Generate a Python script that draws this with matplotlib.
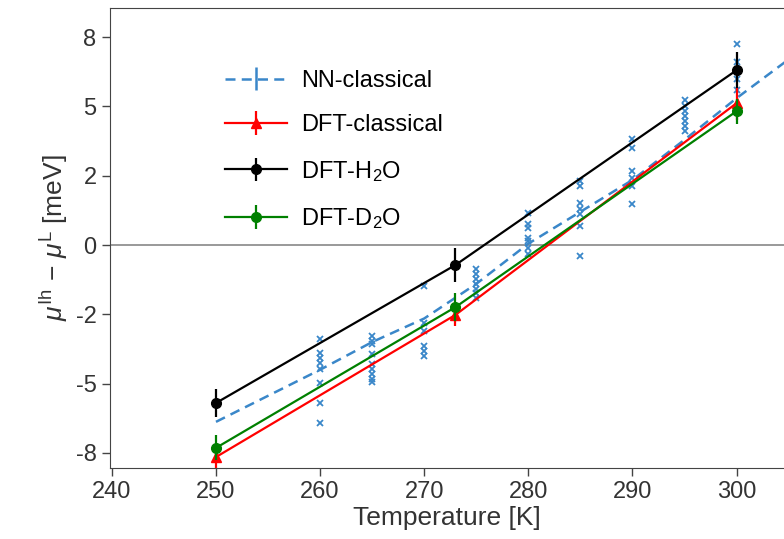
import numpy as np
import matplotlib
matplotlib.use("Agg")
import matplotlib.pyplot as plt

plt.rcParams['font.family'] = ['Liberation Sans', 'DejaVu Sans']
plt.rcParams['mathtext.fontset'] = 'custom'
plt.rcParams['mathtext.rm'] = 'Liberation Sans'
plt.rcParams['mathtext.it'] = 'Liberation Sans:italic'

# DFT results with error bars
T_dft = [250, 273, 300]
dft_classical = [-7.65, -2.52, 5.12]
dft_classical_err = [0.4, 0.4, 0.6]
dft_h2o = [-5.70, -0.72, 6.31]
dft_h2o_err = [0.5, 0.6, 0.65]
dft_d2o = [-7.32, -2.24, 4.83]
dft_d2o_err = [0.45, 0.5, 0.45]

# NN-classical mean curve
T_nn = [250, 260, 265, 270, 275, 280, 285, 290, 295, 300, 310]
nn_mean = [-6.38, -4.5, -3.5, -2.65, -1.4, 0.05, 1.2, 2.35, 3.8, 5.3, 8.1]

# individual NN runs (scatter)
nn_runs = {
    260: [-3.39, -3.89, -4.07, -4.26, -4.47, -4.98, -5.70, -6.42],
    265: [-3.28, -3.46, -3.57, -3.93, -4.29, -4.47, -4.65, -4.83, -4.94],
    270: [-1.48, -2.81, -3.10, -3.64, -3.82, -4.00],
    275: [-0.87, -1.05, -1.23, -1.41, -1.59, -1.73, -1.91],
    280: [1.16, 0.75, 0.62, 0.26, 0.14, -0.10, -0.34],
    285: [2.31, 2.13, 1.53, 1.29, 1.11, 0.69, -0.40],
    290: [3.81, 3.51, 2.67, 2.43, 2.13, 1.47],
    295: [5.25, 5.01, 4.83, 4.65, 4.47, 4.29, 4.11],
    300: [7.26, 6.6, 6.0, 5.6],
}

xticks = [240, 250, 260, 270, 280, 290, 300]
yticks = [-7.5, -5, -2.5, 0, 2.5, 5, 7.5]
ytick_labels = ['-8', '-5', '-2', '0', '2', '5', '8']

blue = '#3a87c9'

fig = plt.figure(figsize=(7.84, 5.39), dpi=100)
ax = fig.add_axes([0.140, 0.132, 0.860, 0.853])

ax.axhline(0, color='#888888', lw=1.2, zorder=1)

for T, vals in nn_runs.items():
    ax.plot([T] * len(vals), vals, 'x', color=blue, ms=4, mew=1.3, zorder=2)

ax.errorbar(T_nn, nn_mean, yerr=np.zeros(len(T_nn)), color=blue, ls=(0, (4, 2.5)),
            lw=1.8, label='NN-classical', zorder=3)
ax.errorbar(T_dft, dft_classical, yerr=dft_classical_err, color='red', marker='^',
            ms=7, lw=1.6, elinewidth=1.6, label='DFT-classical', zorder=4)
ax.errorbar(T_dft, dft_h2o, yerr=dft_h2o_err, color='black', marker='o',
            ms=7, lw=1.6, elinewidth=1.6, label='DFT-H$_2$O', zorder=5)
ax.errorbar(T_dft, dft_d2o, yerr=dft_d2o_err, color='green', marker='o',
            ms=7, lw=1.6, elinewidth=1.6, label='DFT-D$_2$O', zorder=5)

ax.set_xlim(239.8, 304.55)
ax.set_ylim(-8.04, 8.55)
ax.set_xticks(xticks)
ax.set_yticks(yticks)
ax.set_yticklabels(ytick_labels)
ax.tick_params(labelsize=17, length=6, width=1, color='#444444', labelcolor='#333333')
ax.spines['right'].set_visible(False)
for s in ['left', 'bottom', 'top']:
    ax.spines[s].set_color('#444444')

ax.set_xlabel('Temperature [K]', fontsize=19, color='#333333', labelpad=2)
ax.set_ylabel(r'$\mu^{\mathrm{Ih}}\,-\,\mu^{\mathrm{L}}$ [meV]', fontsize=19,
              color='#333333', labelpad=4)

ax.legend(loc='upper left', bbox_to_anchor=(0.14, 0.912), frameon=False,
          fontsize=17, labelspacing=0.95, handlelength=2.6, handletextpad=0.6)

fig.savefig('out.png', dpi=100)
